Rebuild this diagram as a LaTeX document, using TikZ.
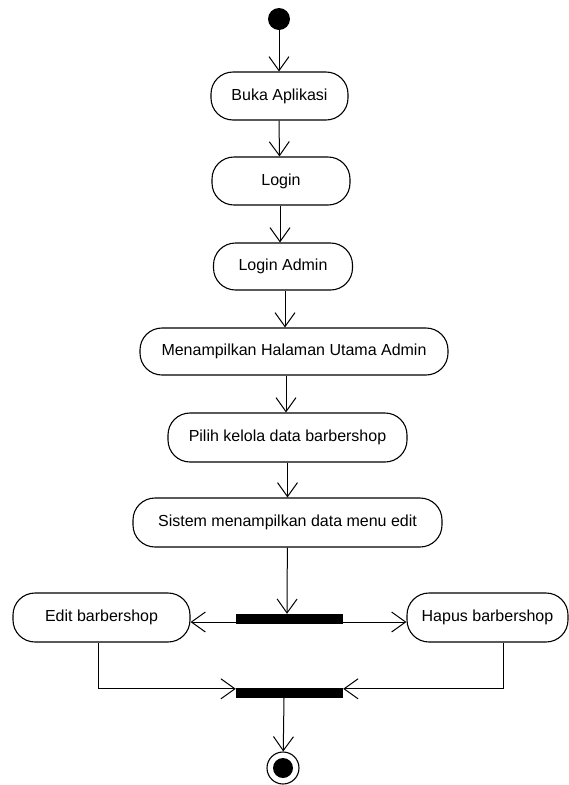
\documentclass[tikz,border=0pt]{standalone}
\usepackage{fontspec}
\setmainfont{Liberation Sans}
\usetikzlibrary{arrows.meta}
\usetikzlibrary{calc}

\begin{document}
\begin{tikzpicture}[x=1pt, y=1pt,
  flow/.style={line width=1pt, -{Straight Barb[length=14pt, width=20pt, line width=1pt]}},
  activity/.style={draw, line width=1.1pt, rounded corners=22pt, minimum height=48pt, inner sep=0pt, font=\fontsize{16}{19}\selectfont},
  bar/.style={fill=black, inner sep=0pt, minimum width=107pt, minimum height=10pt}]
  % picture frame of the reference
  \useasboundingbox (0,0) rectangle (569,-785);

  % start and activities
  \node[circle, fill=black, minimum size=22pt, inner sep=0pt] (start) at (279,-19) {};
  \node[activity, minimum width=137pt] (buka) at (279.5,-96) {Buka Aplikasi};
  \node[activity, minimum width=138pt] (login) at (281,-181) {Login};
  \node[activity, minimum width=139pt, minimum height=47pt] (admin) at (283,-266.5) {Login Admin};
  \node[activity, minimum width=308pt, minimum height=47pt] (utama) at (294,-351.5) {Menampilkan Halaman Utama Admin};
  \node[activity, minimum width=239pt, minimum height=49pt] (kelola) at (287.5,-437.5) {Pilih kelola data barbershop};
  \node[activity, minimum width=309pt, minimum height=49pt] (sistem) at (287.5,-522.5) {Sistem menampilkan data menu edit};

  % fork, branches and join
  \node[bar] (fork) at (289.5,-619) {};
  \node[activity, minimum width=177pt, minimum height=49pt] (edit) at (101.5,-617.5) {Edit barbershop};
  \node[activity, minimum width=161pt, minimum height=49pt] (hapus) at (487.5,-617.5) {Hapus barbershop};
  \node[bar] (join) at (289.5,-693) {};

  % end
  \node[circle, draw, line width=1.1pt, fill=white, minimum size=32pt, inner sep=0pt] (end) at (283,-768) {};
  \node[circle, fill=black, minimum size=20pt, inner sep=0pt] (endin) at (end) {};

  % flows
  \draw[flow] (start) -- (start |- buka.north);
  \draw[flow] ($(buka.south)+(-0.5,0)$) -- (buka.south |- login.north);
  \draw[flow] ($(login.south)+(-1,0)$) -- ($(login.south |- admin.north)+(-1,0)$);
  \draw[flow] ($(admin.south)+(2,0)$) -- ($(admin.south |- utama.north)+(2,0)$);
  \draw[flow] ($(utama.south)+(-8,0)$) -- ($(utama.south |- kelola.north)+(-8,0)$);
  \draw[flow] (kelola) -- (kelola |- sistem.north);
  \draw[flow] (sistem) -- ($(sistem.south |- fork.north)+(-0.5,0)$);
  \draw[flow] ($(fork.west)+(0,-3)$) -- ($(fork.west -| edit.east)+(0,-3)$);
  \draw[flow] ($(fork.east)+(0,-3)$) -- ($(fork.east -| hapus.west)+(0,-3)$);
  \draw[flow] ($(edit.south)+(-3.5,0)$) |- ($(join.north west)+(0,-1)$);
  \draw[flow] ($(hapus.south)+(15.5,0)$) |- ($(join.north east)+(0,-1)$);
  \draw[flow] ($(join.south)+(-5.5,0)$) -- (end);
\end{tikzpicture}
\end{document}
